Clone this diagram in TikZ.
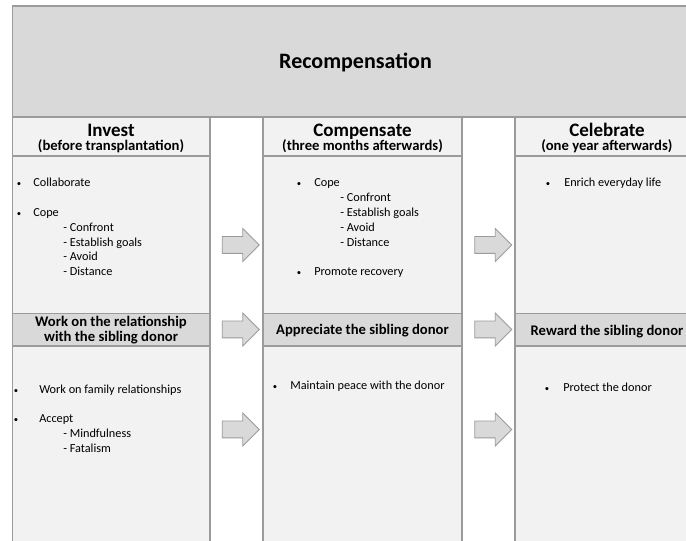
\documentclass[tikz,border=0pt]{standalone}
\usepackage{fontspec}
\setmainfont{Carlito}
\usetikzlibrary{positioning,shapes.arrows}
\definecolor{panelgray}{RGB}{217,217,217}
\definecolor{bodygray}{RGB}{242,242,242}
\definecolor{linegray}{RGB}{155,155,155}
\begin{document}
\begin{tikzpicture}[x=0.75pt, y=-0.75pt,
    panel/.style = {draw=linegray, line width=0.8pt},
    title/.style = {anchor=base, font=\bfseries\fontsize{16.5}{19}\selectfont},
    head/.style = {anchor=base, font=\bfseries\fontsize{14.25}{17}\selectfont},
    sub/.style = {anchor=base, font=\bfseries\fontsize{11}{11.3}\selectfont},
    item/.style = {anchor=base west, inner sep=0pt, font=\fontsize{9.2}{11}\selectfont},
    dot/.style = {anchor=base, inner sep=0pt, font=\fontsize{6.5}{7}\selectfont},
    flow/.style = {single arrow, draw=linegray, fill=panelgray, line width=0.7pt,
      inner xsep=0pt, inner ysep=6pt, single arrow head extend=6pt,
      minimum height=27.75pt}]
  \useasboundingbox (0,0) rectangle (686,541);
  \clip (0,0) rectangle (686,541);
  \fill[white] (0,0) rectangle (686,541);
  % columns
  \foreach \l/\r in {12.5/210, 263/462, 515/699} {
    \draw[panel, fill=bodygray] (\l,117) rectangle (\r,560);
    \draw[panel] (\l,156) -- (\r,156);
    \draw[panel, fill=panelgray] (\l,313.5) rectangle (\r,346);
  }
  % banner
  \draw[panel, fill=panelgray] (12.5,6) rectangle (700,117);
  \node[title] (rec) at (355.5,69) {Recompensation};
  %
  \node[head] (inv) at (111,136.5) {Invest};
  \node[sub] (invt) at (111,150.5) {(before transplantation)};
  \node[head] (comp) at (362.5,136.5) {Compensate};
  \node[sub] (compt) at (362.5,150.5) {(three months afterwards)};
  \node[head] (cel) at (607,136.5) {Celebrate};
  \node[sub] (celt) at (607,150.5) {(one year afterwards)};
  %
  \node[sub] (invs) at (111,326.5) {Work on the relationship};
  \node[sub] (invs2) at (111,341.5) {with the sibling donor};
  \node[sub] (comps) at (362.5,335) {Appreciate the sibling donor};
  \node[sub] (cels) at (607,336) {Reward the sibling donor};
  % invest
  \node[dot] (i1b) at (19,187) {\textbullet};
  \node[item] (i1) at (33,187) {Collaborate};
  \node[dot] (i2b) at (19,217) {\textbullet};
  \node[item] (i2) at (33,217) {Cope};
  \foreach \t [count=\k] in {Confront, Establish goals, Avoid, Distance}
    \node[item] (i2-\k) at (63,216.5+14.8*\k) {- \t};
  \node[dot] (i3b) at (16,394) {\textbullet};
  \node[item] (i3) at (39,394) {Work on family relationships};
  \node[dot] (i4b) at (16,423) {\textbullet};
  \node[item] (i4) at (39,423) {Accept};
  \foreach \t [count=\k] in {Mindfulness, Fatalism}
    \node[item] (i4-\k) at (63,423+14.8*\k) {- \t};
  % compensate
  \node[dot] (c1b) at (299,187) {\textbullet};
  \node[item] (c1) at (314,187) {Cope};
  \foreach \t [count=\k] in {Confront, Establish goals, Avoid, Distance}
    \node[item] (c1-\k) at (340,187+14.8*\k) {- \t};
  \node[dot] (c2b) at (299,276) {\textbullet};
  \node[item] (c2) at (314,276) {Promote recovery};
  \node[dot] (c3b) at (275,390) {\textbullet};
  \node[item] (c3) at (290,390) {Maintain peace with the donor};
  % celebrate
  \node[dot] (e1b) at (548,187) {\textbullet};
  \node[item] (e1) at (564,187) {Enrich everyday life};
  \node[dot] (e2b) at (547,392) {\textbullet};
  \node[item] (e2) at (563,392) {Protect the donor};
  % arrows
  \node[flow] (a1) at (236.5,245) {};
  \node[flow] (a2) at (236.5,329.5) {};
  \node[flow] (a3) at (236.5,429.5) {};
  \node[flow] (a4) at (489,245) {};
  \node[flow] (a5) at (489,329.5) {};
  \node[flow] (a6) at (489,429.5) {};
\end{tikzpicture}
\end{document}
